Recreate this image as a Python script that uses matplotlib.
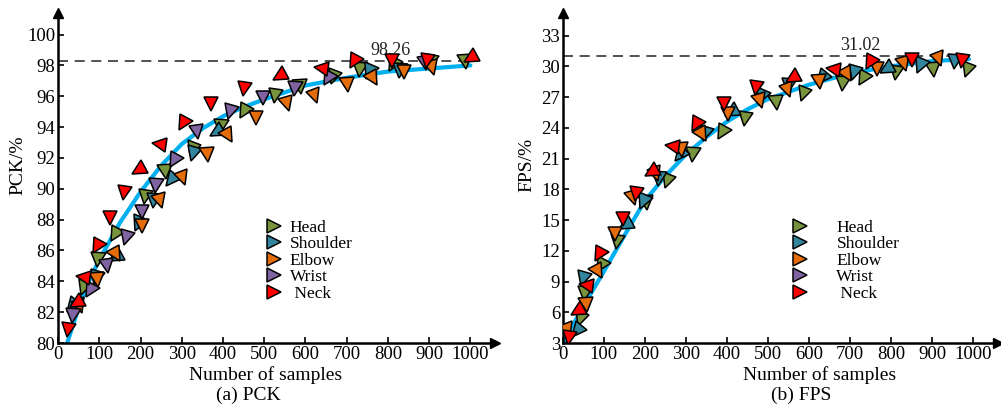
import matplotlib
matplotlib.use('Agg')
import matplotlib.pyplot as plt
from matplotlib.markers import MarkerStyle
from matplotlib.transforms import Affine2D

plt.rcParams['font.family'] = ['Liberation Serif', 'DejaVu Serif']
plt.rcParams['font.size'] = 12

# ---- PCK panel ----
pck_fit_x = [22, 50, 75, 100, 150, 200, 250, 300, 350, 400, 450, 500, 600, 700, 800, 900, 1000]
pck_fit_y = [80.0, 82.3, 84.0, 85.4, 87.8, 89.8, 91.5, 92.9, 93.9, 94.7, 95.3, 95.8, 96.7, 97.2, 97.6, 97.8, 98.0]

pck_head_x = [60, 98, 138, 210, 260, 324, 395, 452, 525, 587, 667, 733, 812, 905, 986]
pck_head_y = [83.6, 85.4, 87.0, 89.5, 91.1, 92.6, 94.0, 95.0, 96.0, 96.6, 97.25, 97.7, 98.05, 98.2, 98.2]
pck_shoulder_x = [33, 92, 138, 193, 233, 273, 328, 383, 753, 830]
pck_shoulder_y = [82.4, 84.2, 85.6, 87.7, 89.2, 90.6, 92.25, 93.65, 97.55, 97.65]
pck_elbow_x = [53, 94, 141, 203, 248, 303, 361, 413, 480, 555, 624, 700, 765, 838, 907]
pck_elbow_y = [82.4, 84.1, 85.7, 87.6, 89.2, 90.7, 92.2, 93.4, 94.6, 95.5, 96.0, 96.7, 97.1, 97.55, 97.8]
pck_wrist_x = [37, 78, 118, 165, 203, 238, 280, 338, 416, 497, 575, 655, 891]
pck_wrist_y = [81.75, 83.4, 85.0, 86.8, 88.5, 90.15, 91.8, 93.65, 94.95, 95.9, 96.5, 97.15, 98.15]
pck_neck_x = [25, 44, 61, 95, 125, 160, 193, 246, 303, 371, 450, 536, 638, 718, 810, 895, 1000]
pck_neck_y = [80.84, 82.6, 84.3, 86.2, 88.1, 89.7, 91.2, 92.9, 94.2, 95.5, 96.5, 97.3, 97.8, 98.2, 98.3, 98.3, 98.5]
pck_best = 98.26

# ---- FPS panel ----
fps_fit_x = [0, 50, 100, 150, 200, 250, 300, 350, 400, 450, 500, 600, 700, 800, 900, 990]
fps_fit_y = [3.0, 6.6, 10.0, 13.5, 16.9, 19.3, 21.4, 23.1, 24.6, 25.8, 26.8, 28.2, 29.3, 30.0, 30.5, 30.7]

fps_head_x = [41, 54, 92, 133, 202, 253, 316, 389, 445, 520, 585, 682, 731, 812, 902, 985]
fps_head_y = [5.3, 7.75, 10.5, 12.9, 16.7, 18.8, 21.3, 23.45, 24.85, 26.4, 27.3, 28.3, 28.8, 29.35, 29.6, 29.6]
fps_shoulder_x = [35, 48, 151, 194, 235, 285, 346, 411, 482, 552, 631, 710, 788, 871, 956]
fps_shoulder_y = [4.2, 9.2, 14.5, 16.8, 19.0, 21.3, 23.4, 25.5, 27.0, 28.1, 28.9, 29.3, 29.7, 30.05, 30.4]
fps_elbow_x = [13, 56, 86, 127, 172, 228, 289, 338, 403, 480, 550, 625, 692, 765, 832, 918]
fps_elbow_y = [4.3, 6.7, 9.9, 13.6, 17.1, 19.5, 21.8, 23.3, 25.3, 26.6, 27.7, 28.5, 29.1, 29.75, 30.2, 30.7]
fps_wrist_x = []
fps_wrist_y = []
fps_neck_x = [15, 35, 56, 89, 146, 178, 215, 267, 324, 393, 472, 559, 659, 749, 852, 972]
fps_neck_y = [3.46, 6.1, 8.7, 11.6, 15.1, 17.5, 19.7, 22.2, 24.3, 26.3, 27.85, 28.9, 29.7, 30.3, 30.65, 30.55]
fps_best = 31.02

parts = ['Head', 'Shoulder', 'Elbow', 'Wrist', ' Neck']
colors = ['#77933C', '#31859C', '#E46C0A', '#8064A2', '#FF0000']
# marker tilt per series (degrees, applied to a right-pointing triangle)
tilts = {
    'Head': [-110, -95, -120, -100, -85],
    'Shoulder': [-130, -105, -150, -115, -95],
    'Elbow': [-70, -85, -60, -90, -75],
    'Wrist': [-95, -120, -80, -105, -90],
    ' Neck': [-100, -150, 170, -120, -90],
}


def tri(angle):
    return MarkerStyle('>', transform=Affine2D().rotate_deg(angle))


def draw_panel(ax, fit_x, fit_y, series, best, xmax, ylim, yticks,
               ylabel, caption, best_xy, dash_end, leg_anchor, leg_pad,
               xlab_x, ylab_x, cap_x):
    ax.plot(fit_x, fit_y, color='#00B0F0', lw=3, zorder=2, solid_capstyle='round')
    ax.plot([0, dash_end], [best, best], color='#333333', lw=1.2,
            linestyle=(0, (6, 4)), zorder=1)
    ax.text(best_xy[0], best_xy[1], '%.2f' % best, ha='center', va='bottom',
            fontsize=13, color='#222222')

    for (name, xs, ys), c in zip(series, colors):
        for i, (x, y) in enumerate(zip(xs, ys)):
            a = tilts[name][i % len(tilts[name])]
            ax.plot(x, y, linestyle='none', marker=tri(a), markersize=10.5,
                    markerfacecolor=c, markeredgecolor='black',
                    markeredgewidth=1.1, zorder=3)
        ax.plot([], [], linestyle='none', marker='>', markersize=10,
                markerfacecolor=c, markeredgecolor='black',
                markeredgewidth=1.1, label=name)

    ax.set_xlim(0, xmax)
    ax.set_ylim(*ylim)
    ax.set_xticks(range(0, 1001, 100))
    ax.set_yticks(yticks)
    ax.tick_params(direction='in', length=4, width=1.2, labelsize=13.5, pad=2)
    for s in ['top', 'right']:
        ax.spines[s].set_visible(False)
    for s in ['left', 'bottom']:
        ax.spines[s].set_linewidth(1.8)
    # arrow heads on axis ends
    ax.plot(1, 0, '>k', markersize=7, transform=ax.transAxes, clip_on=False)
    ax.plot(0, 1, '^k', markersize=7, transform=ax.transAxes, clip_on=False)

    ax.text(xlab_x, -0.097, 'Number of samples', transform=ax.transAxes,
            ha='center', va='center', fontsize=14)
    ax.text(ylab_x, 0.54, ylabel, transform=ax.transAxes, rotation=90,
            ha='center', va='center', fontsize=14)
    ax.text(cap_x, -0.158, caption, transform=ax.transAxes, ha='center',
            va='center', fontsize=14)
    ax.legend(loc='upper left', bbox_to_anchor=leg_anchor, frameon=False,
              fontsize=12.5, labelspacing=0.02, handletextpad=leg_pad,
              borderpad=0, handlelength=1.0)


fig = plt.figure(figsize=(10.01, 4.05), dpi=100)
ax1 = fig.add_axes([0.058, 0.153, 0.4366, 0.815])
ax2 = fig.add_axes([0.5624, 0.153, 0.4346, 0.815])

pck_series = [
    ('Head', pck_head_x, pck_head_y),
    ('Shoulder', pck_shoulder_x, pck_shoulder_y),
    ('Elbow', pck_elbow_x, pck_elbow_y),
    ('Wrist', pck_wrist_x, pck_wrist_y),
    (' Neck', pck_neck_x, pck_neck_y),
]
fps_series = [
    ('Head', fps_head_x, fps_head_y),
    ('Shoulder', fps_shoulder_x, fps_shoulder_y),
    ('Elbow', fps_elbow_x, fps_elbow_y),
    ('Wrist', fps_wrist_x, fps_wrist_y),
    (' Neck', fps_neck_x, fps_neck_y),
]

draw_panel(ax1, pck_fit_x, pck_fit_y, pck_series, pck_best, 1060, (80, 101.4),
           range(80, 101, 2), 'PCK/%', '(a) PCK', (806, 98.4), 1000,
           (0.455, 0.4), 0.4, 0.474, -0.092, 0.435)
draw_panel(ax2, fps_fit_x, fps_fit_y, fps_series, fps_best, 1061, (3, 35.2),
           range(3, 34, 3), 'FPS/%', '(b) FPS', (724, 31.15), 990,
           (0.505, 0.4), 1.6, 0.59, -0.083, 0.548)

fig.savefig('out.png', dpi=100)
